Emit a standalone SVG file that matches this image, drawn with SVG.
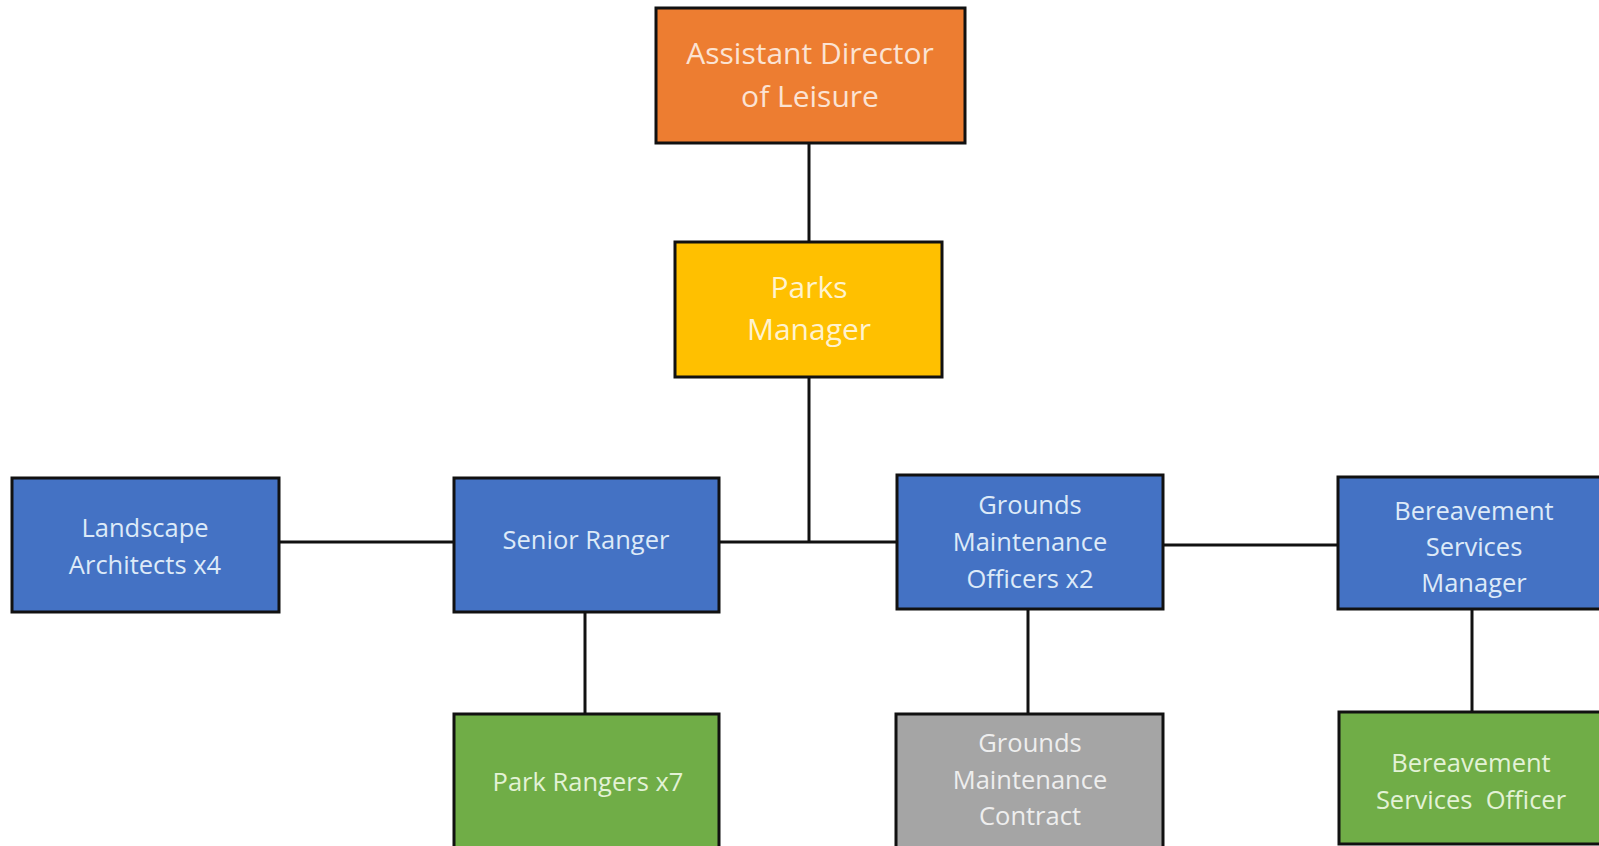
<svg xmlns="http://www.w3.org/2000/svg" width="1599" height="846" viewBox="0 0 1599 846">
<style>
  .box { stroke: #111; stroke-width: 3; }
  .orange { fill: #ED7D31; }
  .yellow { fill: #FFC000; }
  .blue { fill: #4472C4; }
  .green { fill: #70AD47; }
  .gray { fill: #A5A5A5; }
  text { font-family: "Open Sans", "Liberation Sans", sans-serif; text-anchor: middle; white-space: pre; }
  .big { font-size: 30px; }
  .sm { font-size: 25.5px; }
  .t-orange { fill: #FBE3D3; }
  .t-yellow { fill: #FFF3CF; }
  .t-blue { fill: #DDEAF8; }
  .t-green { fill: #E3F2D6; }
  .t-gray { fill: #EEEEEE; }
  .conn { stroke: #111; stroke-width: 3; fill: none; }
</style>
<rect width="1599" height="846" fill="#FFFFFF"/>
<g id="connectors">
  <line class="conn" x1="809" y1="143" x2="809" y2="242"/>
  <line class="conn" x1="809" y1="377" x2="809" y2="542"/>
  <line class="conn" x1="279" y1="542" x2="454" y2="542"/>
  <line class="conn" x1="719" y1="542" x2="897" y2="542"/>
  <line class="conn" x1="1163" y1="545" x2="1338" y2="545"/>
  <line class="conn" x1="585" y1="612" x2="585" y2="714"/>
  <line class="conn" x1="1028" y1="609" x2="1028" y2="714"/>
  <line class="conn" x1="1472" y1="609" x2="1472" y2="712"/>
</g>
<g id="assistant-director">
  <rect class="box orange" x="656" y="8" width="309" height="135"/>
  <text class="big t-orange" x="810" y="64">Assistant Director</text>
  <text class="big t-orange" x="810" y="107">of Leisure</text>
</g>
<g id="parks-manager">
  <rect class="box yellow" x="675" y="242" width="267" height="135"/>
  <text class="big t-yellow" x="809" y="298">Parks</text>
  <text class="big t-yellow" x="809" y="340">Manager</text>
</g>
<g id="landscape-architects">
  <rect class="box blue" x="12" y="478" width="267" height="134"/>
  <text class="sm t-blue" x="145" y="537">Landscape</text>
  <text class="sm t-blue" x="145" y="574">Architects x4</text>
</g>
<g id="senior-ranger">
  <rect class="box blue" x="454" y="478" width="265" height="134"/>
  <text class="sm t-blue" x="586" y="549">Senior Ranger</text>
</g>
<g id="grounds-officers">
  <rect class="box blue" x="897" y="475" width="266" height="134"/>
  <text class="sm t-blue" x="1030" y="514">Grounds</text>
  <text class="sm t-blue" x="1030" y="551">Maintenance</text>
  <text class="sm t-blue" x="1030" y="588">Officers x2</text>
</g>
<g id="bereavement-manager">
  <rect class="box blue" x="1338" y="477" width="272" height="132"/>
  <text class="sm t-blue" x="1474" y="520">Bereavement</text>
  <text class="sm t-blue" x="1474" y="556">Services</text>
  <text class="sm t-blue" x="1474" y="592">Manager</text>
</g>
<g id="park-rangers">
  <rect class="box green" x="454" y="714" width="265" height="140"/>
  <text class="sm t-green" x="588" y="791">Park Rangers x7</text>
</g>
<g id="grounds-contract">
  <rect class="box gray" x="896" y="714" width="267" height="140"/>
  <text class="sm t-gray" x="1030" y="752">Grounds</text>
  <text class="sm t-gray" x="1030" y="789">Maintenance</text>
  <text class="sm t-gray" x="1030" y="825">Contract</text>
</g>
<g id="bereavement-officer">
  <rect class="box green" x="1339" y="712" width="272" height="132"/>
  <text class="sm t-green" x="1471" y="772">Bereavement</text>
  <text class="sm t-green" x="1471" y="809">Services  Officer</text>
</g>
</svg>
